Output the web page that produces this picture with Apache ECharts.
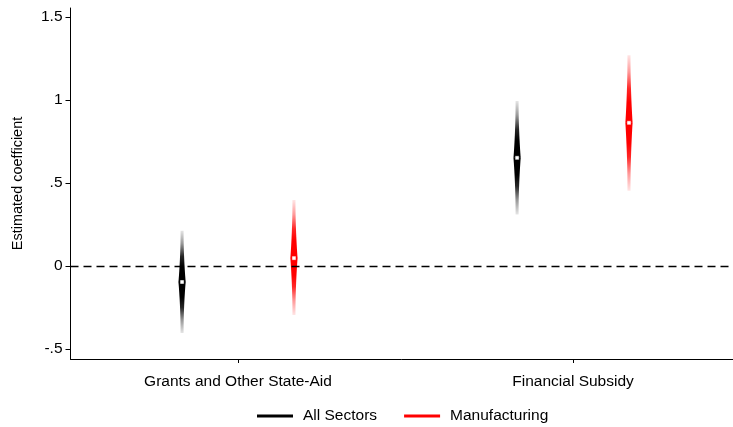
<!DOCTYPE html>
<html>
<head>
<meta charset="utf-8">
<script src="https://cdn.jsdelivr.net/npm/echarts@6/dist/echarts.min.js"></script>
<style>
html,body{margin:0;padding:0;background:#fff;}
#chart{width:733px;height:427px;}
</style>
</head>
<body>
<div id="chart"></div>
<script>
const categories = ['Grants and Other State-Aid', 'Financial Subsidy'];
const seriesNames = ['All Sectors', 'Manufacturing'];
const allEst = [-0.096, 0.652];
const allLo = [-0.404, 0.311];
const allHi = [0.213, 0.994];
const mfgEst = [0.048, 0.863];
const mfgLo = [-0.295, 0.454];
const mfgHi = [0.398, 1.271];
const yTicks = [-0.5, 0, 0.5, 1, 1.5];
const yTickLabels = ['-.5', '0', '.5', '1', '1.5'];

const FONT = 'Liberation Sans, Arial, sans-serif';
const OFF = 0.334;

function alphaAt(t) {
  if (t <= 0.3) return 1;
  if (t <= 0.5) return 1 - (t - 0.3) / 0.2 * 0.15;
  if (t <= 0.75) return 0.85 - (t - 0.5) / 0.25 * 0.45;
  return 0.4 - (t - 0.75) / 0.25 * 0.3;
}
function halfWidth(t) { return 1.5 + 2.1 * Math.pow(1 - t, 2); }

function makeRender(rgb) {
  return function (params, api) {
    const c = api.coord([api.value(0), api.value(1)]);
    const x = c[0], yE = c[1];
    const yLo = api.coord([api.value(0), api.value(2)])[1];
    const yHi = api.coord([api.value(0), api.value(3)])[1];
    const children = [];
    function half(yEnd, top) {
      const N = 30, left = [], right = [];
      for (let k = 0; k <= N; k++) {
        const t = k / N;
        const y = yE + (yEnd - yE) * t;
        const hw = halfWidth(t);
        left.push([x - hw, y]);
        right.push([x + hw, y]);
      }
      const pts = left.concat(right.reverse());
      const stops = [];
      for (let k = 0; k <= 20; k++) {
        const t = k / 20;
        stops.push({ offset: top ? 1 - t : t, color: 'rgba(' + rgb + ',' + alphaAt(t).toFixed(3) + ')' });
      }
      stops.sort((a, b) => a.offset - b.offset);
      children.push({
        type: 'polygon',
        shape: { points: pts },
        style: { fill: { type: 'linear', x: 0, y: 0, x2: 0, y2: 1, colorStops: stops } }
      });
    }
    half(yHi, true);
    half(yLo, false);
    children.push({
      type: 'polygon',
      shape: { points: [[x - 12, yE], [x - 3, yE - 4], [x + 3, yE - 4], [x + 12, yE], [x + 3, yE + 4], [x - 3, yE + 4]] },
      style: {
        fill: {
          type: 'radial', x: 0.5, y: 0.5, r: 0.5,
          colorStops: [
            { offset: 0, color: 'rgba(' + rgb + ',0.8)' },
            { offset: 0.5, color: 'rgba(' + rgb + ',0.4)' },
            { offset: 1, color: 'rgba(' + rgb + ',0)' }
          ]
        }
      }
    });
    children.push({
      type: 'rect',
      shape: { x: x - 2, y: yE - 2, width: 4, height: 4 },
      style: { fill: '#fff', stroke: 'rgba(' + rgb + ',0.45)', lineWidth: 1 }
    });
    return { type: 'group', children: children };
  };
}

const allData = categories.map((c, i) => [2 * i + 1 - OFF, allEst[i], allLo[i], allHi[i]]);
const mfgData = categories.map((c, i) => [2 * i + 1 + OFF, mfgEst[i], mfgLo[i], mfgHi[i]]);

const chart = echarts.init(document.getElementById('chart'), null, { renderer: 'canvas' });
chart.setOption({
  animation: false,
  backgroundColor: '#fff',
  color: ['#000', '#ff0000'],
  textStyle: { fontFamily: FONT },
  grid: { left: 70.5, right: 0, top: 8, bottom: 68, containLabel: false },
  xAxis: {
    type: 'value', min: 0, max: 3.955,
    splitLine: { show: false },
    axisLine: { show: true, onZero: false, lineStyle: { color: '#000', width: 1 } },
    axisTick: { show: true, length: 4, customValues: [1, 3], lineStyle: { color: '#000' } },
    axisLabel: {
      show: true, customValues: [1, 3], margin: 15,
      fontFamily: FONT, fontSize: 15.5, color: '#000',
      formatter: v => categories[Math.round((v - 1) / 2)]
    }
  },
  yAxis: {
    type: 'value', min: -0.56, max: 1.555,
    name: 'Estimated coefficient', nameLocation: 'middle', nameGap: 45,
    nameTextStyle: { fontFamily: FONT, fontSize: 14.5, color: '#000' },
    splitLine: { show: false },
    axisLine: { show: true, onZero: false, lineStyle: { color: '#000', width: 1 } },
    axisTick: { show: true, length: 5, customValues: yTicks, lineStyle: { color: '#000' } },
    axisLabel: {
      show: true, customValues: yTicks, margin: 8,
      fontFamily: FONT, fontSize: 15.5, color: '#000',
      formatter: v => { const i = yTicks.findIndex(t => Math.abs(t - v) < 1e-6); return i >= 0 ? yTickLabels[i] : ''; }
    }
  },
  legend: {
    data: seriesNames, left: 257, top: 408, padding: 0,
    icon: 'rect', itemWidth: 36, itemHeight: 3, itemGap: 27,
    textStyle: { fontFamily: FONT, fontSize: 15.5, color: '#000', padding: [0, 0, 0, 5] }
  },
  series: [
    {
      name: seriesNames[0], type: 'custom', itemStyle: { color: '#000' },
      renderItem: makeRender('0,0,0'), data: allData,
      encode: { x: 0, y: [1, 2, 3] }, z: 3,
      markLine: {
        silent: true, symbol: 'none', label: { show: false },
        lineStyle: { color: '#000', type: [8, 5], width: 1.3 },
        data: [{ yAxis: 0 }]
      }
    },
    {
      name: seriesNames[1], type: 'custom', itemStyle: { color: '#ff0000' },
      renderItem: makeRender('255,0,0'), data: mfgData,
      encode: { x: 0, y: [1, 2, 3] }, z: 3
    }
  ]
});
</script>
</body>
</html>
